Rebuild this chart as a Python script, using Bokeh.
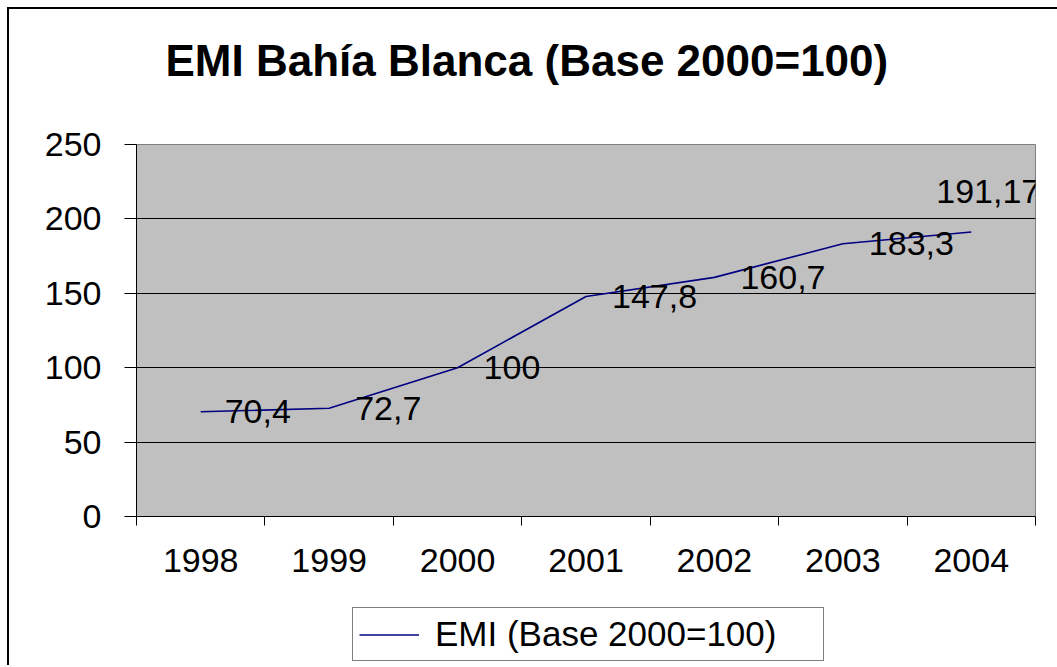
from bokeh.plotting import figure
from bokeh.layouts import column
from bokeh.models import (FixedTicker, Legend, LegendItem, ColumnDataSource,
                          LabelSet, Range1d, Title)
from bokeh.core.properties import value
from bokeh.embed import file_html
from bokeh.resources import INLINE

# ---- data ----
years = ["1998", "1999", "2000", "2001", "2002", "2003", "2004"]
emi = [70.4, 72.7, 100, 147.8, 160.7, 183.3, 191.17]
emi_labels = ["70,4", "72,7", "100", "147,8", "160,7", "183,3", "191,17"]
y_ticks = [0, 50, 100, 150, 200, 250]
chart_title = "EMI Bahía Blanca (Base 2000=100)"
series_name = "EMI (Base 2000=100)"

# ---- label placement (style, not data) ----
label_dx = [24, 26, 26, 26, 26, 26, -35]
label_dy = [0, 0, 0, 0, 0, 0, 41]

xs = list(range(1, len(years) + 1))
FONT = "Liberation Sans"
LINE_COLOR = "#000080"
LINE_WIDTH = 1.6

src = ColumnDataSource(dict(x=xs, y=emi, label=emi_labels, dx=label_dx, dy=label_dy))

W = 1048
p = figure(width=W, height=587, output_backend="svg", toolbar_location=None, title=None,
           x_range=Range1d(0.5, len(years) + 0.5), y_range=Range1d(y_ticks[0], y_ticks[-1]),
           min_border_left=127, min_border_right=22, min_border_top=135,
           min_border_bottom=80)

p.background_fill_color = "#C0C0C0"
p.border_fill_color = "white"
p.outline_line_color = "#808080"
p.outline_line_width = 1

# blank spacer between frame and title, then the title itself
spacer = Title(text=" ", text_font_size="1px", standoff=52)
p.add_layout(spacer, "above")
main_title = Title(text=chart_title, text_font=FONT, text_font_size="44px",
                   text_font_style="bold", text_color="black",
                   align="left", offset=29, standoff=10)
p.add_layout(main_title, "above")

# x axis
xa = p.xaxis[0]
xa.ticker = FixedTicker(ticks=xs, minor_ticks=[x - 0.5 for x in xs] + [xs[-1] + 0.5])
xa.major_label_overrides = {x: y for x, y in zip(xs, years)}
xa.major_tick_out = 0
xa.major_tick_in = 0
xa.minor_tick_out = 9
xa.minor_tick_in = 0
xa.minor_tick_line_color = "black"
xa.axis_line_color = "black"
xa.major_label_text_font = FONT
xa.major_label_text_font_size = "34px"
xa.major_label_text_color = "black"
xa.major_label_standoff = 23

# y axis
ya = p.yaxis[0]
ya.ticker = FixedTicker(ticks=y_ticks, minor_ticks=[])
ya.major_tick_out = 12
ya.major_tick_in = 0
ya.major_tick_line_color = "black"
ya.axis_line_color = "black"
ya.major_label_text_font = FONT
ya.major_label_text_font_size = "34px"
ya.major_label_text_color = "black"
ya.major_label_standoff = 23

p.xgrid.grid_line_color = None
p.ygrid.grid_line_color = "black"
p.ygrid.grid_line_width = 1
p.ygrid.ticker = FixedTicker(ticks=y_ticks)

line = p.line(x="x", y="y", source=src, line_color=LINE_COLOR, line_width=LINE_WIDTH)

labels = LabelSet(x="x", y="y", text="label", source=src, x_offset="dx", y_offset="dy",
                  text_font=value(FONT), text_font_size="34px", text_color="black",
                  text_baseline="middle", text_align="left")
p.add_layout(labels)

# ---- legend strip below the chart (frame aligned with the chart's frame) ----
q = figure(width=W, height=69, output_backend="svg", toolbar_location=None,
           x_axis_type=None, y_axis_type=None,
           x_range=Range1d(0.5, len(years) + 0.5), y_range=Range1d(-2, -1),
           min_border_left=127, min_border_right=22, min_border_top=0, min_border_bottom=0)
q.outline_line_color = None
q.background_fill_color = "white"
q.border_fill_color = "white"
q.xgrid.visible = False
q.ygrid.visible = False
# same series drawn out of view, only used for the legend key
key = q.line(x="x", y="y", source=src, line_color=LINE_COLOR, line_width=LINE_WIDTH)

legend = Legend(items=[LegendItem(label=series_name, renderers=[key])],
                location=(216, 4), orientation="horizontal",
                border_line_color="black", border_line_width=1,
                background_fill_color="white", background_fill_alpha=1,
                label_text_font=FONT, label_text_font_size="35px", label_text_color="black",
                label_width=382, label_height=37, glyph_width=60, glyph_height=37,
                label_standoff=16, padding=6, spacing=0, margin=0)
q.add_layout(legend, "center")

layout = column(p, q, spacing=0,
                styles={"margin-left": "7px", "margin-top": "7px",
                        "border-left": "2px solid black", "border-top": "2px solid black"})

open("out.html", "w").write(file_html(layout, INLINE))
